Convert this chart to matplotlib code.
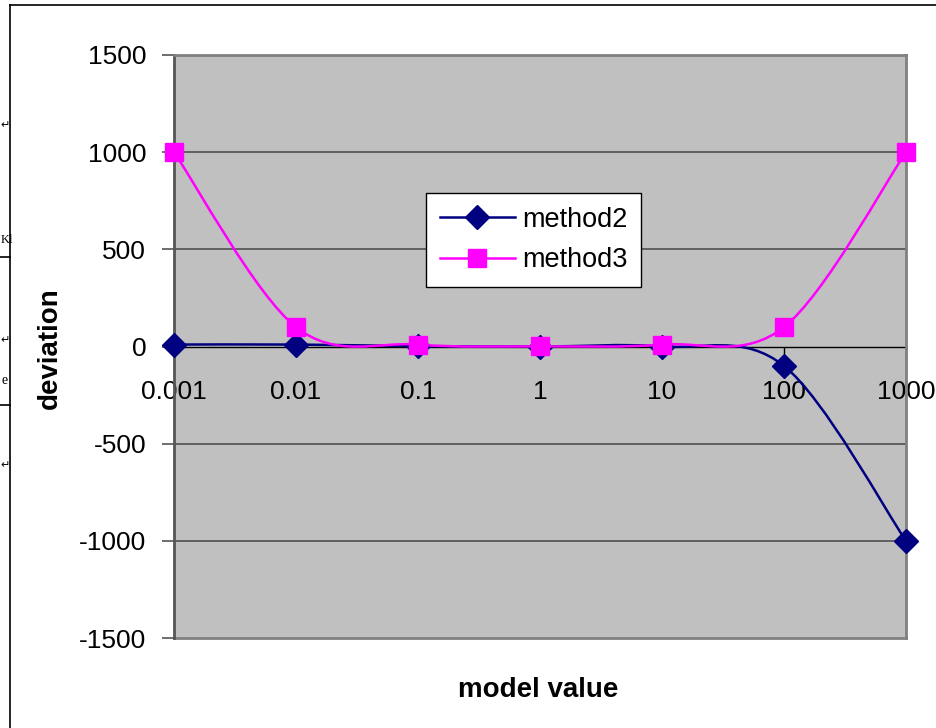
import matplotlib
matplotlib.use("Agg")
import matplotlib.pyplot as plt
from matplotlib.path import Path
from matplotlib.patches import PathPatch
from matplotlib.lines import Line2D
import numpy as np

plt.rcParams['font.family'] = ['Liberation Sans', 'DejaVu Sans']

# 数据
categories = ["0.001", "0.01", "0.1", "1", "10", "100", "1000"]
method2 = [10, 10, 2, 0, 0, -100, -1000]
method3 = [1000, 100, 10, 1, 10, 100, 1000]
y_ticks = [-1500, -1000, -500, 0, 500, 1000, 1500]


# 平滑曲线(Catmull-Rom 转三次贝塞尔)
def smooth_path(xs, ys):
    pts = np.column_stack([xs, ys]).astype(float)
    n = len(pts)
    verts = [pts[0]]
    codes = [Path.MOVETO]
    for i in range(n - 1):
        p0 = pts[i - 1] if i > 0 else pts[i]
        p3 = pts[i + 2] if i + 2 < n else pts[i + 1]
        c1 = pts[i] + (pts[i + 1] - p0) / 6.0
        c2 = pts[i + 1] - (p3 - pts[i]) / 6.0
        verts += [c1, c2, pts[i + 1]]
        codes += [Path.CURVE4] * 3
    return Path(verts, codes)


W, H = 936, 728
fig = plt.figure(figsize=(W / 100, H / 100), dpi=100)
ax = fig.add_axes([174 / W, 1 - 638 / H, (906 - 174) / W, (638 - 55) / H])
ax.set_facecolor("#c0c0c0")

x = np.arange(len(categories))

series = [
    (method2, "#000080", "D", 12.5, "method2"),
    (method3, "#ff00ff", "s", 12.5, "method3"),
]
handles = []
for i, (vals, color, mk, ms, name) in enumerate(series):
    ax.add_patch(PathPatch(smooth_path(x, vals), fill=False, edgecolor=color,
                           linewidth=1.8, zorder=3 + 2 * i, clip_on=False))
    ax.plot(x, vals, linestyle="none", marker=mk, markersize=ms,
            color=color, zorder=4 + 2 * i, clip_on=False)
    handles.append(Line2D([], [], color=color, marker=mk, markersize=ms,
                          linewidth=1.8, label=name))

ax.set_xlim(0, len(categories) - 1)
ax.set_ylim(-1500, 1500)
ax.set_yticks(y_ticks)
ax.set_yticklabels([str(v) for v in y_ticks])

# 网格线
for v in y_ticks[1:-1]:
    if v != 0:
        ax.axhline(v, color="#505050", linewidth=1.2, zorder=1)

# x 轴放在 0 处
ax.spines["bottom"].set_position(("data", 0))
ax.spines["bottom"].set_color("black")
ax.spines["bottom"].set_linewidth(1.0)
ax.spines["bottom"].set_zorder(2)
ax.spines["left"].set_color("#555555")
ax.spines["left"].set_linewidth(2.0)
for s in ["top", "right"]:
    ax.spines[s].set_color("#808080")
    ax.spines[s].set_linewidth(2.0)

# 底边框
ax.plot([0, 1], [0, 0], transform=ax.transAxes, color="#808080",
        linewidth=2.0, clip_on=False, zorder=2)

ax.set_xticks(x)
ax.set_xticklabels(categories)
ax.tick_params(axis="x", direction="out", length=5, width=1, color="black",
               pad=19, labelsize=19)
ax.tick_params(axis="y", direction="out", length=9, width=1.2, color="#555555",
               pad=11, labelsize=19)

fig.text(538 / W, 1 - 690 / H, "model value", fontsize=20, fontweight="bold",
         ha="center", va="center")
fig.text(50 / W, 1 - 348 / H, "deviation", fontsize=20, fontweight="bold",
         ha="center", va="center", rotation=90)

leg = ax.legend(handles=handles, loc="upper left",
                bbox_to_anchor=(426 / W, 1 - 193 / H),
                bbox_transform=fig.transFigure, borderaxespad=0,
                fontsize=19.5, handlelength=2.8, handletextpad=0.25,
                labelspacing=0.55, borderpad=0.5, fancybox=False,
                framealpha=1)
leg.get_frame().set_edgecolor("black")
leg.get_frame().set_linewidth(1.0)
leg.set_zorder(10)

# 外框和左侧文档残留
fig.add_artist(Line2D([10 / W, 1], [1 - 5 / H] * 2, color="black", linewidth=1.2))
fig.add_artist(Line2D([10 / W, 10 / W], [0, 1 - 5 / H], color="black", linewidth=1.2))
fig.add_artist(Line2D([0, 10 / W], [1 - 257 / H] * 2, color="black", linewidth=1.2))
fig.add_artist(Line2D([0, 10 / W], [1 - 405 / H] * 2, color="black", linewidth=1.2))
fig.text(1 / W, 1 - 240 / H, "Kl", fontsize=9, family="Liberation Serif", va="center")
fig.text(1 / W, 1 - 381 / H, "e", fontsize=10, family="Liberation Serif", va="center")
for yy in [125, 340, 465]:
    fig.text(0, 1 - yy / H, "↵", fontsize=8, family="DejaVu Sans", va="center")

fig.savefig("out.png", dpi=100)
